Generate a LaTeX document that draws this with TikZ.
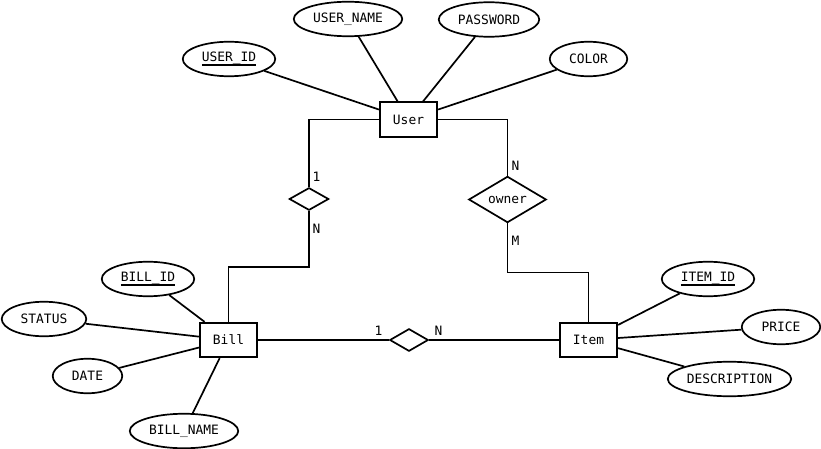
\documentclass[tikz,border=0pt]{standalone}
\usepackage{fontspec}
\newfontfamily\erfont{DejaVu Sans Mono}
\usetikzlibrary{shapes.geometric}

\newcommand{\keyattr}[1]{\setbox0\hbox{#1}\rlap{\rule[-4.2pt]{\wd0}{2pt}}\box0}

\begin{document}
\begin{tikzpicture}[
    x=1pt, y=-1pt,
    line width=1.7pt,
    every node/.style={font=\erfont\fontsize{12.9}{15}\selectfont},
    entity/.style={rectangle, draw, minimum width=57.5pt, minimum height=34.5pt, inner sep=0pt},
    attr/.style={ellipse, draw, minimum height=34.5pt, inner sep=0pt},
    rel/.style={diamond, draw, inner sep=0pt},
    card/.style={inner sep=0pt}
]
\useasboundingbox (0,0) rectangle (821,449);

% entities
\node [entity] (user) at (408.5,119.5) {User};
\node [entity] (bill) at (228.5,340) {Bill};
\node [entity] (item) at (588.5,340) {Item};

% relationships
\node [rel, minimum width=39.5pt, minimum height=22.5pt] (makes) at (309,199) {};
\node [rel, minimum width=77.5pt, minimum height=45.5pt] (owner) at (507.5,199.5) {owner};
\node [rel, minimum width=38.5pt, minimum height=22.5pt] (holds) at (409,340) {};

% attributes of User
\node [attr, minimum width=92.5pt] (userid) at (229,59) {\keyattr{USER\_ID}};
\node [attr, minimum width=108.5pt] (username) at (348,19) {USER\_NAME};
\node [attr, minimum width=100.5pt] (password) at (489,19.5) {PASSWORD};
\node [attr, minimum width=77.5pt] (color) at (588.5,59) {COLOR};

% attributes of Bill
\node [attr, minimum width=92.5pt] (billid) at (148,279) {\keyattr{BILL\_ID}};
\node [attr, minimum width=84.5pt] (status) at (44,319) {STATUS};
\node [attr, minimum width=69.5pt] (date) at (87.5,376) {DATE};
\node [attr, minimum width=108.5pt] (billname) at (184,431) {BILL\_NAME};

% attributes of Item
\node [attr, minimum width=92.5pt] (itemid) at (708,279) {\keyattr{ITEM\_ID}};
\node [attr, minimum width=78.5pt] (price) at (781,327) {PRICE};
\node [attr, minimum width=123.5pt] (descr) at (729.5,379) {DESCRIPTION};

\foreach \a in {userid, username, password, color}
    \draw (user) -- (\a);
\foreach \a in {billid, status, date, billname}
    \draw (bill) -- (\a);
\foreach \a in {itemid, price, descr}
    \draw (item) -- (\a);

% relationship lines
\draw (user.west) -| (makes.north);
\draw (makes.south) -- ++(0,56) -| (bill.north);
\draw (user.east) -| (owner.north);
\draw (owner.south) -- ++(0,49) -| (item.north);
\draw (bill.east) -- (holds.west);
\draw (holds.east) -- (item.west);

% cardinalities
\node [card] (c1) at (316.5,177) {1};
\node [card] (c2) at (316.5,229) {N};
\node [card] (c3) at (515.5,166) {N};
\node [card] (c4) at (515.5,241) {M};
\node [card] (c5) at (378.5,331) {1};
\node [card] (c6) at (438.5,331) {N};
\end{tikzpicture}
\end{document}
